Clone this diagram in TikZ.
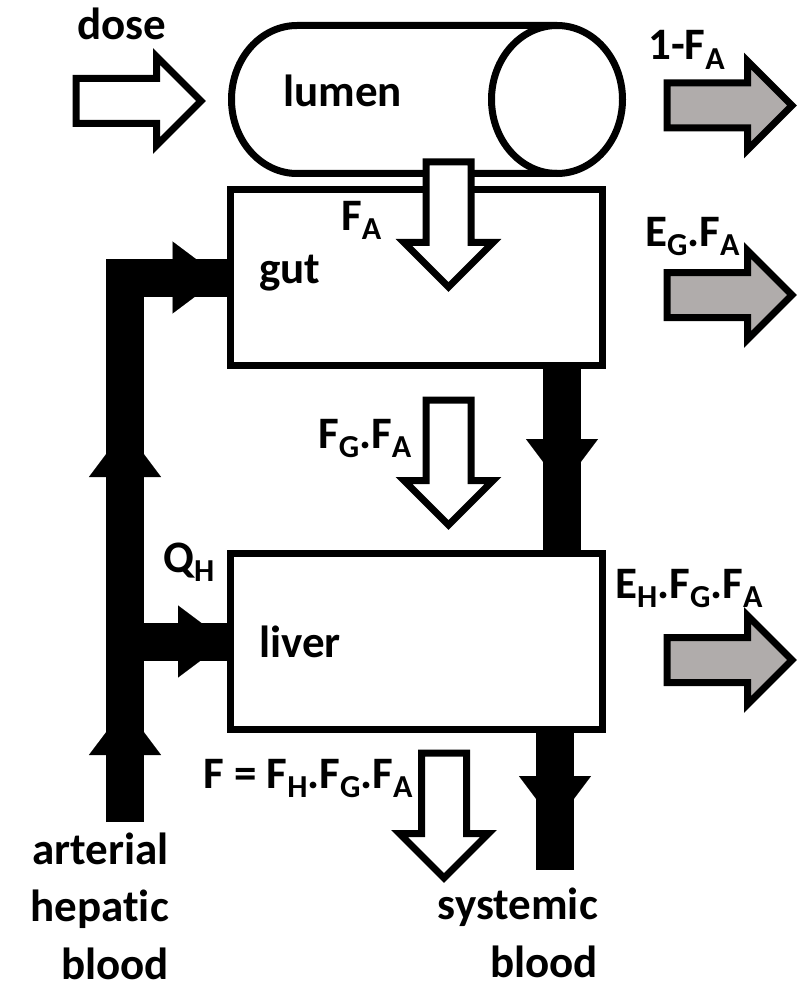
\documentclass[tikz,border=0pt]{standalone}
\usepackage{fontspec}
\setmainfont{Carlito}[Ligatures=NoCommon]
\usetikzlibrary{arrows.meta,decorations.markings,shapes.arrows}
\definecolor{lossgray}{RGB}{176,172,171}
\newcommand{\lowsub}[1]{\raisebox{-9.5pt}{\fontsize{32}{32}\selectfont #1}}
\newcommand{\Fx}[1]{F\lowsub{#1}}
\newcommand{\Ex}[1]{E\lowsub{#1}}

\begin{document}
\begin{tikzpicture}[
    x=1pt,y=-1pt,
    font=\fontsize{45}{57.5}\selectfont\bfseries,
    organ/.style={draw,line width=7pt,fill=white,inner sep=0pt,minimum width=372pt,minimum height=176pt},
    flow/.style={single arrow,draw,line width=7pt,fill=white,inner sep=0pt,inner ysep=19pt,
      minimum height=125pt,single arrow head extend=22pt,anchor=tail},
    loss/.style={flow,fill=lossgray},
    pipe/.style={draw,line width=38pt,line join=miter},
    pipehead/.style={postaction={decorate,decoration={markings,
      mark=at position #1 with {\arrow{Triangle[width=72pt,length=48pt,line width=0.1pt]}}}}},
    lbl/.style={anchor=base west,inner sep=0pt}]
  \useasboundingbox (0,0) rectangle (800,987);
  % lumen: cylinder lying on its side
  \draw[line width=7pt] (557,25.5) -- (297,25.5)
    arc[start angle=90,end angle=270,x radius=65.5pt,y radius=74pt] -- (557,173.5);
  \draw[line width=7pt] (557,99.5) ellipse[x radius=65.5pt,y radius=74pt];
  \node[organ] (gut) at (416.5,277.5) {};
  \node[organ] (liver) at (416.5,641.5) {};
  \coordinate (art) at (125,822);
  \coordinate (sys) at (555,870);
  % blood flows
  \draw[pipe,pipehead=115pt,pipehead=393pt,pipehead=640pt] (art) |- (gut.west);
  \draw[pipe,pipehead=101pt] (art |- liver.west) -- (liver.west);
  \draw[pipe,pipehead=118pt] ([xshift=-44pt]gut.south east) -- ([xshift=-44pt]liver.north east);
  \draw[pipe,pipehead=91pt] (liver.south -| sys) -- (sys);
  % drug flows
  \node[flow] (dose) at (72.5,101) {};
  \node[loss] (unabs) at (663.5,105.5) {};
  \node[loss] (gutloss) at (663.5,295) {};
  \node[loss] (liverloss) at (663.5,660) {};
  \node[flow,rotate=-90] (absorb) at (448.5,158.5) {};
  \node[flow,rotate=-90] (portal) at (448.5,396.5) {};
  \node[flow,rotate=-90] (bioav) at (444,749.5) {};
  % labels
  \node[lbl] (doselbl) at (77,40) {dose};
  \node[lbl] (lumenlbl) at (283,107) {lumen};
  \node[lbl] (unabslbl) at (648,60) {1-\Fx{A}};
  \node[lbl] (absorblbl) at (341,230) {\Fx{A}};
  \node[lbl] (gutlbl) at (259,283) {gut};
  \node[lbl] (gutlosslbl) at (645,246) {\Ex{G}.\Fx{A}};
  \node[lbl] (portallbl) at (318,448) {\Fx{G}.\Fx{A}};
  \node[lbl] (qlbl) at (163,572) {Q\lowsub{H}};
  \node[lbl] (liverlosslbl) at (615,598) {\Ex{H}.\Fx{G}.\Fx{A}};
  \node[lbl] (liverlbl) at (259,657) {liver};
  \node[lbl] (bioavlbl) at (203,788) {F = \Fx{H}.\Fx{G}.\Fx{A}};
  \node[lbl,anchor=base east,align=right] (artlbl) at (169,979) {arterial\\hepatic\\blood};
  \node[lbl,anchor=base east,align=right] (syslbl) at (598,977) {systemic\\blood};
\end{tikzpicture}
\end{document}
